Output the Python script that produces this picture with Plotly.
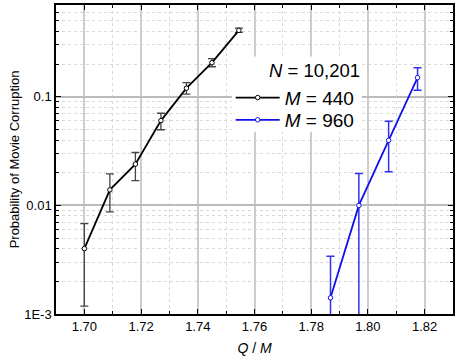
import plotly.graph_objects as go
import numpy as np

# M = 440 series
x440 = [1.700, 1.709, 1.718, 1.727, 1.736, 1.745, 1.7545]
y440 = [0.0040, 0.0139, 0.0240, 0.0604, 0.120, 0.206, 0.409]
e440_hi = [0.0068, 0.0195, 0.0307, 0.0705, 0.135, 0.225, 0.428]
e440_lo = [0.00118, 0.0087, 0.0169, 0.0497, 0.106, 0.189, 0.392]

# M = 960 series
x960 = [1.7868, 1.7968, 1.8073, 1.8175]
y960 = [0.00141, 0.0100, 0.0397, 0.150]
e960_hi = [0.0034, 0.0197, 0.0595, 0.185]
e960_lo = [0.0005, 0.0005, 0.0204, 0.115]

yticks = [0.001, 0.01, 0.1]
yticktext = ["1E-3", "0.01", "0.1"]
xticks = [1.70, 1.72, 1.74, 1.76, 1.78, 1.80, 1.82]
xticktext = ["1.70", "1.72", "1.74", "1.76", "1.78", "1.80", "1.82"]

def errs(y, hi, lo):
    return ([h - v for v, h in zip(y, hi)], [v - l for v, l in zip(y, lo)])

p440, m440 = errs(y440, e440_hi, e440_lo)
p960, m960 = errs(y960, e960_hi, e960_lo)

fig = go.Figure()
fig.add_trace(go.Scatter(
    x=x440, y=y440, mode="lines+markers", name="<i>M</i> = 440", legend="legend",
    line=dict(color="black", width=1.8),
    marker=dict(symbol="circle", size=4.5, color="white", line=dict(color="black", width=1)),
    error_y=dict(type="data", symmetric=False, array=p440, arrayminus=m440,
                 color="#444444", thickness=1.3, width=4),
))
fig.add_trace(go.Scatter(
    x=x960, y=y960, mode="lines+markers", name="<i>M</i> = 960", legend="legend2",
    line=dict(color="#1010ee", width=1.8),
    marker=dict(symbol="circle", size=4.5, color="white", line=dict(color="#1010ee", width=1)),
    error_y=dict(type="data", symmetric=False, array=p960, arrayminus=m960,
                 color="#3030ee", thickness=1.5, width=4),
))

xminor = [round(1.69 + 0.01 * i, 2) for i in range(15)]
yminor = []
for d in [0.001, 0.01, 0.1]:
    for k in range(2, 10):
        if d * k <= 0.7:
            yminor.append(d * k)

leg_common = dict(xanchor="left", yanchor="middle", bgcolor="rgba(0,0,0,0)", borderwidth=0,
                  font=dict(size=19), itemwidth=44)

fig.update_layout(
    width=459, height=357,
    margin=dict(l=56, r=6, t=3, b=42),
    paper_bgcolor="white", plot_bgcolor="white",
    font=dict(family="Arial, Liberation Sans, sans-serif", color="black", size=13),
    showlegend=True,
    legend=dict(x=0.44, y=0.70, **leg_common),
    legend2=dict(x=0.44, y=0.628, **leg_common),
    xaxis=dict(range=[1.69, 1.83], tickvals=xticks, ticktext=xticktext,
               showline=True, linecolor="black", linewidth=1.5, mirror="allticks",
               ticks="inside", ticklen=5, tickwidth=1.3, tickcolor="black",
               showgrid=True, gridcolor="#cccccc", gridwidth=1.5, zeroline=False,
               minor=dict(tickvals=xminor, ticks="inside", ticklen=3, tickcolor="black",
                          showgrid=True, gridcolor="#d8d8d8", griddash="dot", gridwidth=1),
               title=dict(text="<i>Q</i> / <i>M</i>", font=dict(size=14), standoff=10)),
    yaxis=dict(type="log", range=[np.log10(0.001), np.log10(0.7)],
               tickvals=yticks, ticktext=yticktext,
               showline=True, linecolor="black", linewidth=1.5, mirror="allticks",
               ticks="inside", ticklen=5, tickwidth=1.3, tickcolor="black",
               showgrid=True, gridcolor="#bbbbbb", gridwidth=1.5, zeroline=False,
               minor=dict(tickvals=yminor, ticks="inside", ticklen=3, tickcolor="black",
                          showgrid=True, gridcolor="#d8d8d8", griddash="dot", gridwidth=1),
               title=dict(text="Probability of Movie Corruption", font=dict(size=13), standoff=2)),
)

# white backing box behind the legend block
fig.add_shape(type="rect", xref="paper", yref="paper",
              x0=0.443, x1=0.771, y0=0.59, y1=0.833,
              fillcolor="white", line=dict(width=0), layer="above")

fig.add_annotation(x=0.77, y=0.788, xref="paper", yref="paper",
                   xanchor="right", yanchor="middle",
                   text="<i>N</i> = 10,201", showarrow=False,
                   font=dict(size=18.5, color="black"))

fig.write_html("out.html", config={"displayModeBar": False},
               post_script="document.body.style.margin='0';document.body.style.overflow='hidden';")
